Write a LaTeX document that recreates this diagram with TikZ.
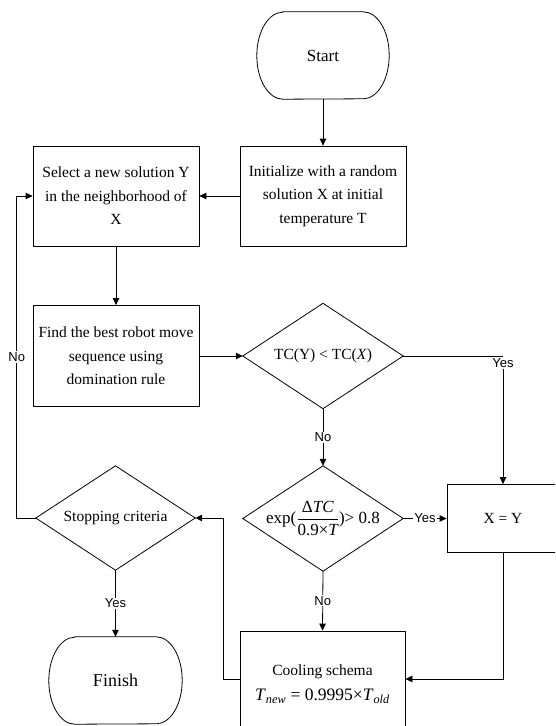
\documentclass[tikz,border=0pt]{standalone}
\usepackage{fontspec}
\setmainfont{Liberation Serif}
\newfontfamily\labelfont{Liberation Sans}
\usepackage{amsmath}
\usetikzlibrary{arrows.meta,calc}
\begin{document}
\begin{tikzpicture}[x=1pt,y=-1pt,
  line/.style={line width=0.8pt, draw=black},
  flow/.style={line width=0.8pt, -{Triangle[length=7pt,width=6.5pt]}},
  txt/.style={font=\fontsize{15.5}{23.5}\selectfont, align=center, inner sep=1pt},
  box/.style={txt, draw, line width=0.8pt, rectangle},
  term/.style={txt, rectangle, minimum width=132pt, minimum height=87pt},
  decision/.style={txt, rectangle, minimum width=160pt, minimum height=105pt},
  lbl/.style={font=\labelfont\fontsize{13}{13}\selectfont, fill=white, inner sep=1pt}
]
\path[use as bounding box] (0,0) rectangle (555,726);
\clip (0,0) rectangle (555,726);
\fill[white] (0,0) rectangle (555,726);

% nodes
\node[term, font=\fontsize{17}{20}\selectfont] (start) at (323,55.5) {Start};
\node[box, minimum width=166pt, minimum height=100pt] (init) at (323,196) {Initialize with a random\\solution X at initial\\temperature T};
\node[box, minimum width=166pt, minimum height=100pt] (sel) at (116,196) {Select a new solution Y\\in the neighborhood of\\X};
\node[box, minimum width=166pt, minimum height=101pt] (find) at (116,356) {Find the best robot move\\sequence using\\domination rule};
\node[decision] (tc) at (323,356) {TC(Y) < TC(\textit{X})};
\node[decision, font=\fontsize{17}{20}\selectfont] (ex) at (323,518.5) {exp($\dfrac{\hbox{Δ\itshape TC}}{\hbox{0.9×\itshape T}}$)> 0.8};
\node[box, minimum width=112pt, minimum height=68pt] (xy) at (503,518.5) {X = Y};
\node[decision, minimum width=159pt, minimum height=104pt] (stop) at (115.5,518) {Stopping criteria};
\node[box, minimum width=165pt, minimum height=106pt] (cool) at (322.5,684) {Cooling schema\\[2pt]{\fontsize{17.5}{20}\selectfont\textit{T}\textsubscript{\textit{new}} = 0.9995×\textit{T}\textsubscript{\textit{old}}}};
\node[term, minimum width=133pt, font=\fontsize{18}{20}\selectfont] (fin) at (115.5,680.5) {Finish};

% terminal outlines
\draw[line] ([xshift=26pt]start.north west) -- ([xshift=-26pt]start.north east)
  arc[start angle=90, end angle=-90, x radius=26pt, y radius=43.5pt]
  -- ([xshift=26pt]start.south west)
  arc[start angle=270, end angle=90, x radius=26pt, y radius=43.5pt] -- cycle;
\draw[line] ([xshift=26pt]fin.north west) -- ([xshift=-26pt]fin.north east)
  arc[start angle=90, end angle=-90, x radius=26pt, y radius=43.5pt]
  -- ([xshift=26pt]fin.south west)
  arc[start angle=270, end angle=90, x radius=26pt, y radius=43.5pt] -- cycle;

% diamond outlines
\foreach \d in {tc,ex,stop}{
  \draw[line] (\d.north) -- (\d.east) -- (\d.south) -- (\d.west) -- cycle;
}

% connectors
\draw[flow] (start.south) -- (init.north);
\draw[flow] (init.west) -- (sel.east);
\draw[flow] (sel.south) -- (find.north);
\draw[flow] (find.east) -- (tc.west);
\coordinate (c1) at (xy.north |- tc.east);
\draw[line] (tc.east) -- (c1);
\node[lbl, anchor=north] (y1) at ([yshift=-1.5pt]c1) {Yes};
\draw[flow] (y1.south) -- (xy.north);
\draw[flow] (tc.south) -- node[lbl]{No} (ex.north);
\draw[flow] (ex.east) -- node[lbl]{Yes} (xy.west);
\draw[flow] (ex.south) -- node[lbl]{No} (cool.north);
\draw[flow] (xy.south) |- ([yshift=5pt]cool.east);
\draw[flow] ([yshift=5pt]cool.west) -- ++(-16,0) |- (stop.east);
\draw[flow] (stop.west) -- ++(-19,0) coordinate (c2) -- node[lbl]{No} (c2 |- sel.west) -- (sel.west);
\draw[flow] (stop.south) -- node[lbl]{Yes} (fin.north);
\end{tikzpicture}
\end{document}
